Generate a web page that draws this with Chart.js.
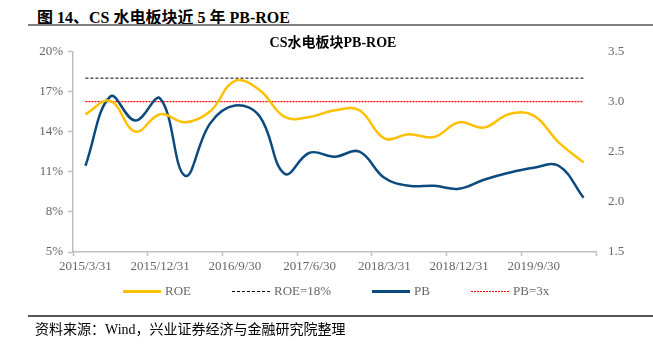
<!DOCTYPE html>
<html>
<head>
<meta charset="utf-8">
<script src="https://cdn.jsdelivr.net/npm/chart.js@4.4.0/dist/chart.umd.min.js"></script>
<style>
  body { margin: 0; background: #fff; }
  #wrap { position: relative; width: 653px; height: 347px; overflow: hidden; }
  #chart { position: absolute; left: 0; top: 0; }
  .head { position: absolute; left: 37px; top: 4px; font: bold 16px 'Liberation Serif', 'Noto Sans CJK SC', serif; color: #000; white-space: nowrap; }
  .rule { position: absolute; left: 28px; right: 0; background: #808080; }
  .foot { position: absolute; left: 35px; top: 318px; font: 14px 'Liberation Serif', 'Noto Sans CJK SC', serif; color: #000; white-space: nowrap; }
  .lg { position: absolute; top: 282px; height: 18px; font: 13px 'Liberation Serif', serif; color: #666; white-space: nowrap; }
  .lg svg { position: absolute; left: 0; top: 0; }
  .lg span { position: absolute; top: 1px; }
</style>
</head>
<body>
<div id="wrap">
  <div class="head">图 14、CS 水电板块近 5 年 PB-ROE</div>
  <div class="rule" style="top:24px;height:2px;"></div>
  <canvas id="chart" width="653" height="347"></canvas>
  <div id="legend"></div>
  <div class="rule" style="top:315px;height:1.5px;background:#555;"></div>
  <div class="foot">资料来源：Wind，兴业证券经济与金融研究院整理</div>
</div>
<script>
// quarterly report dates
const dates = ['2015/3/31', '2015/6/30', '2015/9/30', '2015/12/31', '2016/3/31', '2016/6/30', '2016/9/30',
  '2016/12/31', '2017/3/31', '2017/6/30', '2017/9/30', '2017/12/31', '2018/3/31', '2018/6/30',
  '2018/9/30', '2018/12/31', '2019/3/31', '2019/6/30', '2019/9/30', '2019/12/31', '2020/3/31'];

// ROE (%), left axis
const roe = [15.3, 16.3, 14.0, 15.3, 14.7, 15.5, 17.8, 17.1, 15.1, 15.1, 15.6, 15.6, 13.5, 13.8,
  13.6, 14.7, 14.3, 15.3, 15.2, 13.2, 11.7];
// PB, right axis
const pb = [2.36, 3.05, 2.81, 3.03, 2.26, 2.78, 2.96, 2.85, 2.28, 2.49, 2.45, 2.50, 2.24, 2.16,
  2.16, 2.13, 2.22, 2.29, 2.34, 2.36, 2.04];

const roeLine = 18;   // ROE=18%
const pbLine = 3;     // PB=3x

const roeTicks = [5, 20, 3];        // min, max, step
const pbTicks = [1.5, 3.5, 0.5];

const tickFont = { family: "'Liberation Serif', serif", size: 13 };
const axisGrey = '#bfbfbf';

const datasets = [
  {
    label: 'ROE',
    data: roe,
    borderColor: '#ffc000',
    borderWidth: 2.5,
    tension: 0.4,
    pointRadius: 0,
    yAxisID: 'y'
  },
  {
    label: 'ROE=18%',
    data: dates.map(() => roeLine),
    borderColor: '#000000',
    borderWidth: 1,
    borderDash: [3, 2],
    pointRadius: 0,
    yAxisID: 'y'
  },
  {
    label: 'PB',
    data: pb,
    borderColor: '#0b4a7f',
    borderWidth: 2.5,
    tension: 0.4,
    pointRadius: 0,
    yAxisID: 'y1'
  },
  {
    label: 'PB=3x',
    data: dates.map(() => pbLine),
    borderColor: '#ff0000',
    borderWidth: 1.2,
    borderDash: [2, 1],
    pointRadius: 0,
    yAxisID: 'y1'
  }
];

const chart = new Chart(document.getElementById('chart'), {
  type: 'line',
  data: { labels: dates, datasets: datasets },
  options: {
    responsive: false,
    animation: false,
    devicePixelRatio: 1,
    layout: { padding: { left: 13, right: 0, top: 36, bottom: 70 } },
    plugins: {
      legend: { display: false },
      tooltip: { enabled: false },
      title: {
        display: true,
        text: 'CS水电板块PB-ROE',
        color: '#000',
        font: { family: "'Liberation Serif', 'Noto Sans CJK SC', serif", size: 14, weight: 'bold', lineHeight: 1.1 },
        padding: { top: 0, bottom: 0 }
      }
    },
    scales: {
      x: {
        type: 'category',
        offset: true,
        afterFit: s => { s.height = 25; },
        border: { color: axisGrey, width: 1.5 },
        grid: {
          offset: true,
          drawOnChartArea: false,
          tickLength: 4,
          tickWidth: 1.5,
          tickColor: ctx => (ctx.index === undefined || ctx.index % 3 === 0) ? axisGrey : 'rgba(0,0,0,0)'
        },
        ticks: {
          autoSkip: false,
          maxRotation: 0,
          padding: 3,
          color: '#666',
          font: tickFont,
          callback: (v, i) => i % 3 === 0 ? dates[i] : ''
        }
      },
      y: {
        position: 'left',
        min: roeTicks[0],
        max: roeTicks[1],
        afterFit: s => { s.width = 60; },
        border: { color: axisGrey, width: 1.5 },
        grid: { drawOnChartArea: false, tickLength: 5, tickWidth: 1.5, tickColor: axisGrey },
        ticks: {
          stepSize: roeTicks[2],
          padding: 5,
          color: '#666',
          font: tickFont,
          callback: v => v + '%'
        }
      },
      y1: {
        position: 'right',
        min: pbTicks[0],
        max: pbTicks[1],
        afterFit: s => { s.width = 57; },
        border: { display: false },
        grid: { display: false, drawTicks: false },
        ticks: {
          stepSize: pbTicks[2],
          padding: 12,
          color: '#666',
          font: tickFont,
          callback: v => v.toFixed(1)
        }
      }
    }
  }
});

// legend row built from the datasets
const legendX = [123, 232, 372, 471];
const legendBox = document.getElementById('legend');
chart.data.datasets.forEach((ds, i) => {
  const item = document.createElement('div');
  item.className = 'lg';
  item.style.left = legendX[i] + 'px';
  const dash = ds.borderDash ? ds.borderDash.join(',') : 'none';
  item.innerHTML = '<svg width="38" height="18"><line x1="0" y1="9.5" x2="38" y2="9.5" stroke="' + ds.borderColor +
    '" stroke-width="' + (ds.borderWidth > 2 ? 3 : 1) + '" stroke-dasharray="' + dash + '"/></svg>' +
    '<span style="left:42px">' + ds.label + '</span>';
  legendBox.appendChild(item);
});
</script>
</body>
</html>
